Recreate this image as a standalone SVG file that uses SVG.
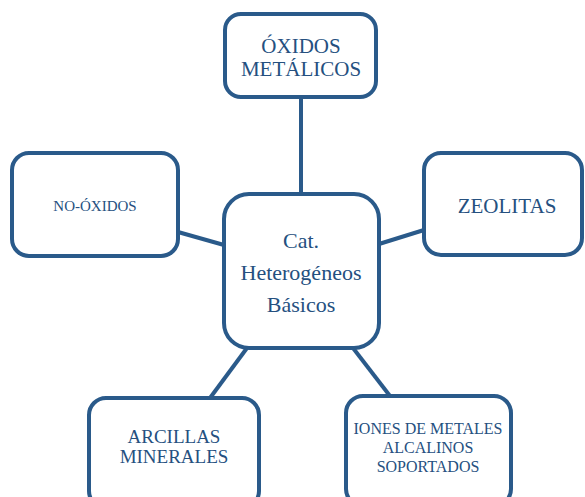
<svg xmlns="http://www.w3.org/2000/svg" width="585" height="497" viewBox="0 0 585 497">
<style>
.box{fill:#ffffff;stroke:#2a5a8a;stroke-width:4}
.con line{stroke:#2a5a8a;stroke-width:4}
text{font-family:"Liberation Serif","DejaVu Serif",serif;fill:#25507f;text-anchor:middle}
</style>
<rect width="585" height="497" fill="#ffffff"/>
<g id="connectors" class="con">
<line x1="301" y1="97" x2="301" y2="194"/>
<line x1="178" y1="232" x2="224" y2="245"/>
<line x1="379" y1="244" x2="424" y2="230"/>
<line x1="247" y1="348" x2="210" y2="398"/>
<line x1="353" y1="348" x2="390" y2="396"/>
</g>
<g id="oxidos-metalicos">
<rect class="box" x="225" y="14" width="151" height="83" rx="16"/>
<text x="301" y="53" font-size="21">ÓXIDOS</text>
<text x="301" y="76" font-size="21">METÁLICOS</text>
</g>
<g id="no-oxidos">
<rect class="box" x="12" y="153" width="166" height="103" rx="17"/>
<text x="95" y="211" font-size="15">NO-ÓXIDOS</text>
</g>
<g id="centro">
<rect class="box" x="224" y="194" width="155" height="154" rx="25"/>
<text x="301" y="248" font-size="22">Cat.</text>
<text x="301" y="280" font-size="22">Heterogéneos</text>
<text x="301" y="312" font-size="22">Básicos</text>
</g>
<g id="zeolitas">
<rect class="box" x="424" y="153" width="158" height="102" rx="17"/>
<text x="507" y="213" font-size="21">ZEOLITAS</text>
</g>
<g id="arcillas">
<rect class="box" x="89" y="398" width="170" height="110" rx="17"/>
<text x="174" y="443" font-size="19">ARCILLAS</text>
<text x="174" y="463" font-size="19">MINERALES</text>
</g>
<g id="iones">
<rect class="box" x="346" y="396" width="165" height="110" rx="17"/>
<text x="428" y="434" font-size="16">IONES DE METALES</text>
<text x="428" y="453" font-size="16">ALCALINOS</text>
<text x="428" y="472" font-size="16">SOPORTADOS</text>
</g>
</svg>
